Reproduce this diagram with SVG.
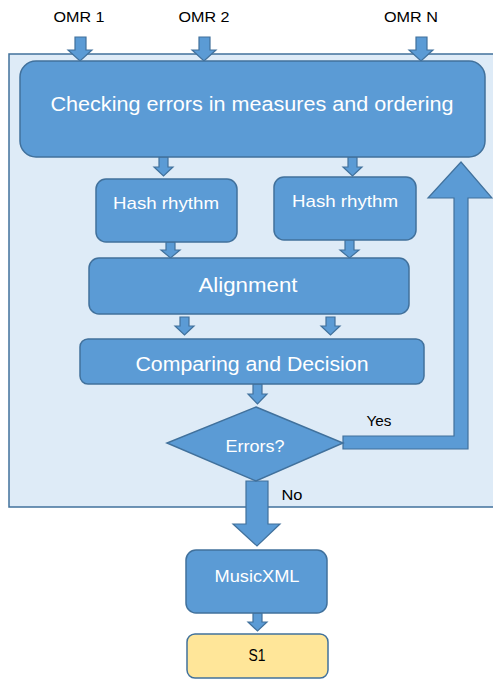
<svg xmlns="http://www.w3.org/2000/svg" width="493" height="679" viewBox="0 0 493 679">
<style>
.box{fill:#5B9BD5;stroke:#41719C;stroke-width:1.5}
.arr{fill:#5B9BD5;stroke:#41719C;stroke-width:1.2}
.wt{fill:#ffffff;font-family:"Liberation Sans",Arial,sans-serif;text-anchor:middle;dominant-baseline:central}
.bt{fill:#000000;font-family:"Liberation Sans",Arial,sans-serif;text-anchor:middle;dominant-baseline:central}
</style>
<rect x="0" y="0" width="493" height="679" fill="#ffffff"/>
<g id="panel"><rect x="9" y="54" width="490" height="453" fill="#DEEBF7" stroke="#41719C" stroke-width="1.5"/></g>
<g id="labels">
<text class="bt" x="79" y="16" font-size="15.5" textLength="51" lengthAdjust="spacingAndGlyphs">OMR 1</text>
<text class="bt" x="204" y="16" font-size="15.5" textLength="51" lengthAdjust="spacingAndGlyphs">OMR 2</text>
<text class="bt" x="411" y="16" font-size="15.5" textLength="54" lengthAdjust="spacingAndGlyphs">OMR N</text>
<text class="bt" x="379" y="420" font-size="15" textLength="25" lengthAdjust="spacingAndGlyphs">Yes</text>
<text class="bt" x="292" y="494" font-size="15" textLength="21" lengthAdjust="spacingAndGlyphs">No</text>
</g>
<g id="connectors">
<path class="arr" d="M75,37 H86 V50 H92 L80,61 L68,50 H75 Z"/>
<path class="arr" d="M199,37 H210 V50 H216 L204,61 L192,50 H199 Z"/>
<path class="arr" d="M416,37 H427 V50 H433 L421,61 L409,50 H416 Z"/>
<path class="arr" d="M159,157 H168 V167 H173 L163.5,176 L154,167 H159 Z"/>
<path class="arr" d="M348,157 H357 V167 H362 L352.5,176 L343,167 H348 Z"/>
<path class="arr" d="M166,242 H175 V250 H180 L170.5,258 L161,250 H166 Z"/>
<path class="arr" d="M345,240 H354 V250 H359 L349.5,258 L340,250 H345 Z"/>
<path class="arr" d="M180,317 H189 V326 H194 L184.5,335 L175,326 H180 Z"/>
<path class="arr" d="M326,317 H335 V326 H340 L330.5,335 L321,326 H326 Z"/>
<path class="arr" d="M253,384 H262 V394 H267 L257.5,404 L248,394 H253 Z"/>
<path class="arr" d="M343,436 H454 V198 H428 L461,162 L492,198 H468 V449 H343 Z"/>
<path class="arr" d="M246,481 H268 V524 H280 L257,546 L233,524 H246 Z"/>
<path class="arr" d="M253,613 H262 V622 H267 L257.5,631 L248,622 H253 Z"/>
</g>
<g id="check"><rect class="box" x="20" y="61" width="465" height="96" rx="16"/>
<text class="wt" x="252" y="103" font-size="20.5" textLength="403" lengthAdjust="spacingAndGlyphs">Checking errors in measures and ordering</text></g>
<g id="hash1"><rect class="box" x="96" y="179" width="141" height="63" rx="10"/>
<text class="wt" x="166" y="203" font-size="17" textLength="106" lengthAdjust="spacingAndGlyphs">Hash rhythm</text></g>
<g id="hash2"><rect class="box" x="274" y="177" width="142" height="63" rx="10"/>
<text class="wt" x="345" y="201" font-size="17" textLength="106" lengthAdjust="spacingAndGlyphs">Hash rhythm</text></g>
<g id="align"><rect class="box" x="89" y="258" width="320" height="56" rx="10"/>
<text class="wt" x="248" y="284" font-size="20.5" textLength="99" lengthAdjust="spacingAndGlyphs">Alignment</text></g>
<g id="compare"><rect class="box" x="80" y="339" width="344" height="45" rx="8"/>
<text class="wt" x="252" y="363" font-size="20.5" textLength="233" lengthAdjust="spacingAndGlyphs">Comparing and Decision</text></g>
<g id="errors"><polygon class="box" points="256,407 343,443 256,481 167,443"/>
<text class="wt" x="255" y="446" font-size="17" textLength="59" lengthAdjust="spacingAndGlyphs">Errors?</text></g>
<g id="musicxml"><rect class="box" x="186" y="550" width="141" height="63" rx="10"/>
<text class="wt" x="257" y="576" font-size="17" textLength="85" lengthAdjust="spacingAndGlyphs">MusicXML</text></g>
<g id="s1"><rect x="187" y="634" width="141" height="44" rx="8" fill="#FFE699" stroke="#41719C" stroke-width="1.5"/>
<text class="bt" x="257" y="655" font-size="16" textLength="17" lengthAdjust="spacingAndGlyphs">S1</text></g>
</svg>
